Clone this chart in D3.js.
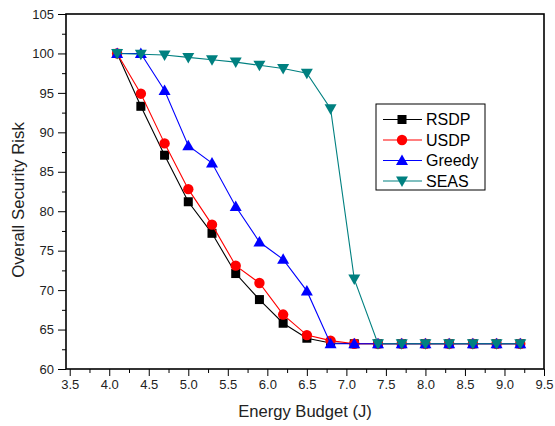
<!DOCTYPE html>
<html>
<head>
<meta charset="utf-8">
<script src="https://cdn.jsdelivr.net/npm/d3@7"></script>
<style>
  body { margin: 0; background: #fff; }
  text { font-family: "Liberation Sans", Arial, sans-serif; }
</style>
</head>
<body>
<div id="chart"></div>
<script>
var budget = [4.1, 4.4, 4.7, 5.0, 5.3, 5.6, 5.9, 6.2, 6.5, 6.8, 7.1, 7.4, 7.7, 8.0, 8.3, 8.6, 8.9, 9.2];
var rsdp   = [100, 93.3, 87.1, 81.2, 77.2, 72.1, 68.8, 65.8, 63.9, 63.3, 63.2, 63.2, 63.2, 63.2, 63.2, 63.2, 63.2, 63.2];
var usdp   = [100, 94.9, 88.6, 82.8, 78.3, 73.1, 70.9, 66.9, 64.3, 63.6, 63.2, 63.2, 63.2, 63.2, 63.2, 63.2, 63.2, 63.2];
var greedy = [100, 100, 95.3, 88.3, 86.1, 80.6, 76.1, 73.9, 69.9, 63.2, 63.2, 63.2, 63.2, 63.2, 63.2, 63.2, 63.2, 63.2];
var seas   = [100, 99.9, 99.8, 99.5, 99.2, 98.9, 98.5, 98.1, 97.5, 93.0, 71.4, 63.2, 63.2, 63.2, 63.2, 63.2, 63.2, 63.2];
var xTicks = [3.5, 4.0, 4.5, 5.0, 5.5, 6.0, 6.5, 7.0, 7.5, 8.0, 8.5, 9.0, 9.5];
var yTicks = [60, 65, 70, 75, 80, 85, 90, 95, 100, 105];

var width = 555, height = 426;
var plotLeft = 66, plotRight = 544, plotTop = 14, plotBottom = 369;

var svg = d3.select("#chart").append("svg")
    .attr("width", width)
    .attr("height", height);

var x = d3.scaleLinear().domain([3.453, 9.5]).range([plotLeft, plotRight]);
var y = d3.scaleLinear().domain([60, 105]).range([plotBottom, plotTop]);

// minor ticks
var xMinor = d3.range(3.75, 9.5, 0.5);
var yMinor = d3.range(62.5, 105, 5);

svg.append("g")
    .attr("transform", "translate(0," + plotBottom + ")")
    .call(d3.axisBottom(x).tickValues(xMinor).tickSize(4).tickFormat(""))
    .call(function(g) { g.select(".domain").remove(); });
svg.append("g")
    .attr("transform", "translate(" + plotLeft + ",0)")
    .call(d3.axisLeft(y).tickValues(yMinor).tickSize(4).tickFormat(""))
    .call(function(g) { g.select(".domain").remove(); });

var xAxis = svg.append("g")
    .attr("transform", "translate(0," + plotBottom + ")")
    .call(d3.axisBottom(x).tickValues(xTicks).tickSize(7).tickPadding(4).tickFormat(d3.format(".1f")));
xAxis.select(".domain").remove();
xAxis.selectAll("text").style("font-size", "13px").attr("fill", "#222");

var yAxis = svg.append("g")
    .attr("transform", "translate(" + plotLeft + ",0)")
    .call(d3.axisLeft(y).tickValues(yTicks).tickSize(8).tickPadding(4));
yAxis.select(".domain").remove();
yAxis.selectAll("text").style("font-size", "13px").attr("fill", "#222");

svg.selectAll(".tick line").attr("stroke", "#000").attr("stroke-width", 1);

// frame
svg.append("rect")
    .attr("x", plotLeft).attr("y", plotTop)
    .attr("width", plotRight - plotLeft).attr("height", plotBottom - plotTop)
    .attr("fill", "none").attr("stroke", "#000").attr("stroke-width", 1.6);

// axis titles
svg.append("text")
    .attr("x", (plotLeft + plotRight) / 2).attr("y", 417)
    .attr("text-anchor", "middle")
    .style("font-size", "16.6px")
    .attr("fill", "#222")
    .text("Energy Budget (J)");
svg.append("text")
    .attr("transform", "translate(24,200)rotate(-90)")
    .attr("text-anchor", "middle")
    .style("font-size", "16.8px")
    .attr("fill", "#222")
    .text("Overall Security Risk");

var series = [
    { name: "RSDP", values: rsdp, color: "#000000", shape: "square" },
    { name: "USDP", values: usdp, color: "#ff0000", shape: "circle" },
    { name: "Greedy", values: greedy, color: "#0000ff", shape: "up" },
    { name: "SEAS", values: seas, color: "#008080", shape: "down" }
];

function marker(g, shape, color) {
    if (shape === "square") {
        g.append("rect").attr("x", -4.5).attr("y", -4.5).attr("width", 9).attr("height", 9).attr("fill", color);
    } else if (shape === "circle") {
        g.append("circle").attr("r", 5.2).attr("fill", color);
    } else if (shape === "up") {
        g.append("path").attr("d", "M0,-6L6,4.5L-6,4.5Z").attr("fill", color);
    } else {
        g.append("path").attr("d", "M0,6L6,-4.5L-6,-4.5Z").attr("fill", color);
    }
}

var line = d3.line()
    .x(function(d) { return x(d[0]); })
    .y(function(d) { return y(d[1]); });

series.forEach(function(s) {
    var pts = budget.map(function(b, i) { return [b, s.values[i]]; });
    svg.append("path")
        .datum(pts)
        .attr("d", line)
        .attr("fill", "none")
        .attr("stroke", s.color)
        .attr("stroke-width", 1.1);
    pts.forEach(function(p) {
        var g = svg.append("g").attr("transform", "translate(" + x(p[0]) + "," + y(p[1]) + ")");
        marker(g, s.shape, s.color);
    });
});

// legend
var legend = svg.append("g");
legend.append("rect")
    .attr("x", 376).attr("y", 104)
    .attr("width", 109).attr("height", 86)
    .attr("fill", "#fff").attr("stroke", "#000").attr("stroke-width", 1);

series.forEach(function(s, i) {
    var ly = 119.5 + i * 20.5;
    legend.append("line")
        .attr("x1", 383).attr("x2", 422)
        .attr("y1", ly).attr("y2", ly)
        .attr("stroke", s.color).attr("stroke-width", 1.1);
    var g = legend.append("g").attr("transform", "translate(402," + ly + ")");
    marker(g, s.shape, s.color);
    legend.append("text")
        .attr("x", 426).attr("y", ly)
        .attr("dy", "0.36em")
        .style("font-size", "16px")
        .attr("fill", "#000")
        .text(s.name);
});
</script>
</body>
</html>
